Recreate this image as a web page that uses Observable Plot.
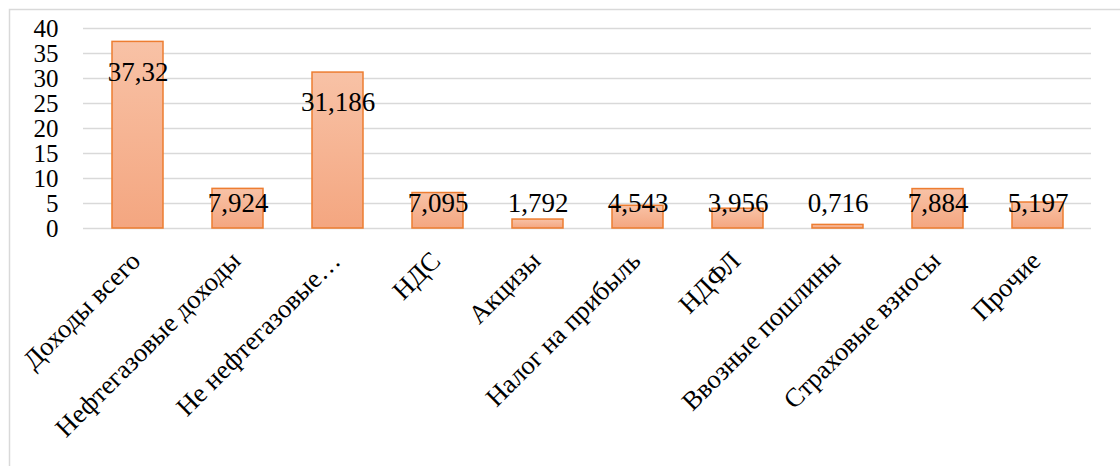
<!DOCTYPE html>
<html>
<head>
<meta charset="utf-8">
<script src="https://cdn.jsdelivr.net/npm/d3@7"></script>
<script src="https://cdn.jsdelivr.net/npm/@observablehq/plot@0.6"></script>
<style>
  html, body { margin: 0; padding: 0; background: #fff; }
  #chart { position: relative; width: 1120px; height: 466px; overflow: hidden; }
</style>
</head>
<body>
<div id="chart"></div>
<script>
const categories = [
  "Доходы всего",
  "Нефтегазовые доходы",
  "Не нефтегазовые…",
  "НДС",
  "Акцизы",
  "Налог на прибыль",
  "НДФЛ",
  "Ввозные пошлины",
  "Страховые взносы",
  "Прочие"
];
const values = [37.32, 7.924, 31.186, 7.095, 1.792, 4.543, 3.956, 0.716, 7.884, 5.197];
const yTicks = [0, 5, 10, 15, 20, 25, 30, 35, 40];

const data = categories.map((c, i) => ({category: c, value: values[i]}));
const fmt = v => String(v).replace(".", ",");

const defsMark = () => {
  const defs = d3.create("svg:defs");
  const g = defs.append("linearGradient")
    .attr("id", "barGrad").attr("x1", 0).attr("y1", 0).attr("x2", 0).attr("y2", 1);
  g.append("stop").attr("offset", "0%").attr("stop-color", "#f8c2a6");
  g.append("stop").attr("offset", "100%").attr("stop-color", "#f4a680");
  return defs.node();
};

const serif = "'Liberation Serif', 'Times New Roman', serif";

const chart = Plot.plot({
  width: 1120,
  height: 466,
  marginLeft: 83,
  marginRight: 29,
  marginTop: 28,
  marginBottom: 238,
  style: {fontFamily: serif, background: "transparent", overflow: "visible"},
  x: {domain: categories, paddingInner: 0.49, paddingOuter: 0.245, label: null},
  y: {domain: [0, 40], label: null},
  marks: [
    defsMark,
    Plot.gridY(yTicks, {stroke: "#d9d9d9", strokeOpacity: 1, strokeWidth: 1.5}),
    Plot.barY(data, {x: "category", y: "value", fill: "url(#barGrad)", stroke: "#ed7d31", strokeWidth: 1.5}),
    Plot.axisY(yTicks, {tickSize: 0, tickPadding: 25, fontSize: 25, fill: "#000", label: null}),
    Plot.axisX({tickSize: 0, tickRotate: -45, fontSize: 26.5, fill: "#000", label: null, tickPadding: 28, dx: -2}),
    Plot.text(data, {
      x: "category",
      y: d => Math.max(d.value - 6, 5),
      text: d => fmt(d.value),
      fontSize: 27,
      fill: "#000",
      fontFamily: serif
    })
  ]
});

document.getElementById("chart").appendChild(chart);

d3.select(chart).append("rect")
  .attr("x", 9.5).attr("y", 9.5).attr("width", 1120).attr("height", 480)
  .attr("fill", "none").attr("stroke", "#d9d9d9").attr("stroke-width", 1.5);
</script>
</body>
</html>
